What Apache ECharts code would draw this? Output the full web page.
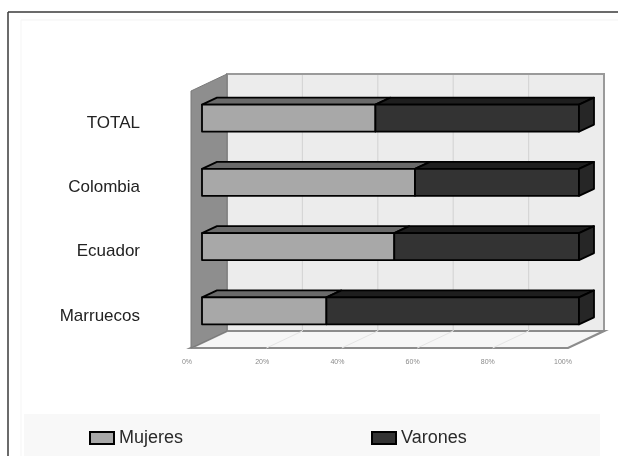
<!DOCTYPE html>
<html>
<head>
<meta charset="utf-8">
<script src="https://cdn.jsdelivr.net/npm/echarts@6/dist/echarts.min.js"></script>
<style>
  html, body { margin: 0; padding: 0; background: #fff; }
  #chart { width: 618px; height: 456px; }
</style>
</head>
<body>
<div id="chart"></div>
<script>
// Origin groups and share of women / men (percent)
const categories = ['TOTAL', 'Colombia', 'Ecuador', 'Marruecos'];
const mujeres = [46, 56.5, 51, 33];
const varones = [54, 43.5, 49, 67];
const ticks = [0, 20, 40, 60, 80, 100];
const tickLabels = ['0%', '20%', '40%', '60%', '80%', '100%'];

// Depth offsets of the pseudo-3D box (pixels)
const BACK = [25, -12];   // back wall relative to bar front plane
const FRONT = [-11, 5];   // floor front edge relative to bar front plane
const BAR_DEPTH = [15, -7];

const chart = echarts.init(document.getElementById('chart'), null, { renderer: 'canvas' });

function segmentRenderer(colors) {
  return function (params, api) {
    const start = api.value(0), end = api.value(1), cat = api.value(2);
    const p0 = api.coord([start, cat]);
    const p1 = api.coord([end, cat]);
    const h = api.size([0, 1])[1] * 0.42;
    const x0 = p0[0], x1 = p1[0], yT = p0[1] - h / 2, yB = p0[1] + h / 2;
    const dx = BAR_DEPTH[0], dy = BAR_DEPTH[1];
    const stroke = { stroke: '#000', lineWidth: 1.8, lineJoin: 'round' };
    const children = [
      { type: 'polygon', shape: { points: [[x0, yT], [x1, yT], [x1 + dx, yT + dy], [x0 + dx, yT + dy]] },
        style: Object.assign({ fill: colors.top }, stroke) },
      { type: 'rect', shape: { x: x0, y: yT, width: x1 - x0, height: h },
        style: Object.assign({ fill: colors.front }, stroke) }
    ];
    if (end >= 100) {
      children.push({ type: 'polygon',
        shape: { points: [[x1, yT], [x1 + dx, yT + dy], [x1 + dx, yB + dy], [x1, yB]] },
        style: Object.assign({ fill: colors.side }, stroke) });
    }
    return { type: 'group', children: children };
  };
}

const mujeresData = categories.map((c, i) => [0, mujeres[i], i]);
const varonesData = categories.map((c, i) => [mujeres[i], mujeres[i] + varones[i], i]);

const option = {
  animation: false,
  backgroundColor: '#fff',
  textStyle: { fontFamily: 'Liberation Sans, Arial, sans-serif' },
  graphic: [
    { type: 'rect', shape: { x: 24, y: 414, width: 576, height: 42 }, style: { fill: '#f8f8f8' }, z: -10 },
    { type: 'line', shape: { x1: 21, y1: 20, x2: 618, y2: 20 }, style: { stroke: '#f3f3f3', lineWidth: 1 }, z: -9 },
    { type: 'line', shape: { x1: 21, y1: 20, x2: 21, y2: 456 }, style: { stroke: '#f5f5f5', lineWidth: 1 }, z: -9 },
    { type: 'line', shape: { x1: 8, y1: 12, x2: 618, y2: 12 }, style: { stroke: '#3a3a3a', lineWidth: 1.5 } },
    { type: 'line', shape: { x1: 8, y1: 12, x2: 8, y2: 456 }, style: { stroke: '#3a3a3a', lineWidth: 1.5 } }
  ],
  legend: [
    { data: ['Mujeres'], left: 84, top: 424, icon: 'rect', itemWidth: 24, itemHeight: 12,
      itemStyle: { borderColor: '#000', borderWidth: 2 },
      textStyle: { fontSize: 18, color: '#2a2a2a' } },
    { data: ['Varones'], left: 366, top: 424, icon: 'rect', itemWidth: 24, itemHeight: 12,
      itemStyle: { borderColor: '#000', borderWidth: 2 },
      textStyle: { fontSize: 18, color: '#2a2a2a' } }
  ],
  grid: [
    { left: 202, right: 39, top: 86, bottom: 113 },
    { left: 187, right: 55, top: 91, bottom: 108 }
  ],
  xAxis: [
    { gridIndex: 0, type: 'value', min: 0, max: 100, interval: 20, show: false },
    { gridIndex: 1, type: 'value', min: 0, max: 100, interval: 20,
      axisLine: { show: false }, axisTick: { show: false }, splitLine: { show: false },
      axisLabel: { fontSize: 7, color: '#8a8a8a', margin: 11,
        formatter: v => tickLabels[ticks.indexOf(v)] } }
  ],
  yAxis: [
    { gridIndex: 0, type: 'category', data: categories, inverse: true, show: false },
    { gridIndex: 1, type: 'category', data: categories, inverse: true,
      axisLine: { show: false }, axisTick: { show: false },
      axisLabel: { fontSize: 17, color: '#222', margin: 47 } }
  ],
  series: [
    {
      // back wall, left wall and floor of the box
      type: 'custom', name: 'caja', xAxisIndex: 0, yAxisIndex: 0, silent: true, clip: false, z: 1,
      data: [[0, 0]],
      renderItem: function (params, api) {
        const cs = params.coordSys;
        const gx = cs.x, gy = cs.y, gw = cs.width, gh = cs.height;
        const bx = gx + BACK[0], by = gy + BACK[1];
        const fxl = gx + FRONT[0], fyb = gy + gh + FRONT[1];
        const children = [
          { type: 'rect', shape: { x: bx, y: by, width: gw, height: gh },
            style: { fill: '#ececec', stroke: '#9a9a9a', lineWidth: 2 } },
          { type: 'polygon', shape: { points: [[fxl + gw, fyb], [fxl, fyb], [bx, by + gh], [bx + gw, by + gh]] },
            style: { fill: '#f6f6f6', stroke: '#8c8c8c', lineWidth: 2.2 } },
          { type: 'polygon', shape: { points: [[bx, by], [bx, by + gh], [fxl, fyb], [fxl, gy + FRONT[1]]] },
            style: { fill: '#8e8e8e', stroke: '#7a7a7a', lineWidth: 1 } }
        ];
        ticks.forEach(t => {
          if (t === 0 || t === 100) return;
          const x = api.coord([t, 0])[0];
          children.push({ type: 'line', shape: { x1: x + BACK[0], y1: by + 1, x2: x + BACK[0], y2: by + gh },
            style: { stroke: '#d6d6d6', lineWidth: 1.2 } });
          children.push({ type: 'line', shape: { x1: x + BACK[0], y1: by + gh, x2: x + FRONT[0], y2: fyb },
            style: { stroke: '#e4e4e4', lineWidth: 1 } });
        });
        return { type: 'group', children: children };
      }
    },
    {
      type: 'custom', name: 'Mujeres', xAxisIndex: 0, yAxisIndex: 0, clip: false, z: 3,
      itemStyle: { color: '#a8a8a8' },
      encode: { x: [0, 1], y: 2 },
      data: mujeresData,
      renderItem: segmentRenderer({ front: '#a8a8a8', top: '#6a6a6a', side: '#555' })
    },
    {
      type: 'custom', name: 'Varones', xAxisIndex: 0, yAxisIndex: 0, clip: false, z: 3,
      itemStyle: { color: '#333333' },
      encode: { x: [0, 1], y: 2 },
      data: varonesData,
      renderItem: segmentRenderer({ front: '#333333', top: '#1e1e1e', side: '#262626' })
    }
  ]
};

chart.setOption(option);
</script>
</body>
</html>
